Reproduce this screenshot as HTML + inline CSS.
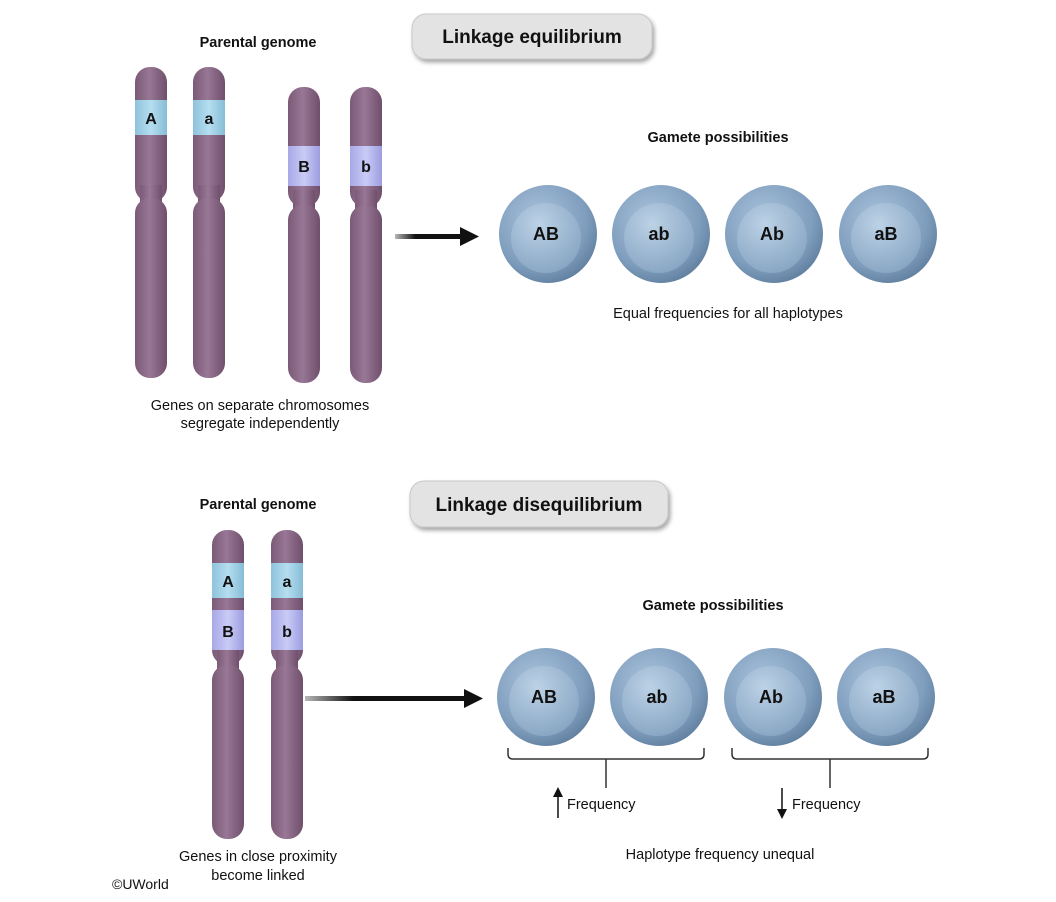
<!DOCTYPE html>
<html><head><meta charset="utf-8"><style>
html,body{margin:0;padding:0;background:#fff}
svg{display:block}
text{font-family:"Liberation Sans",Arial,sans-serif;fill:#111}
</style></head><body>
<svg width="1056" height="902" viewBox="0 0 1056 902" xmlns="http://www.w3.org/2000/svg">
<defs>
<linearGradient id="chr" x1="0" x2="1" y1="0" y2="0">
<stop offset="0" stop-color="#7a5a76"/><stop offset="0.45" stop-color="#987796"/><stop offset="1" stop-color="#6f4f6b"/>
</linearGradient>
<linearGradient id="bandA" x1="0" x2="1"><stop offset="0" stop-color="#8ec3dc"/><stop offset="0.5" stop-color="#b5def0"/><stop offset="1" stop-color="#86bcd6"/></linearGradient>
<linearGradient id="bandB" x1="0" x2="1"><stop offset="0" stop-color="#a7a8e6"/><stop offset="0.5" stop-color="#c9cbf6"/><stop offset="1" stop-color="#9c9de0"/></linearGradient>
<radialGradient id="outer" cx="0.4" cy="0.35" r="0.7"><stop offset="0" stop-color="#a9c3dc"/><stop offset="0.7" stop-color="#7f9dbd"/><stop offset="1" stop-color="#5f7d9d"/></radialGradient>
<radialGradient id="inner" cx="0.4" cy="0.3" r="0.75"><stop offset="0" stop-color="#bcd2e6"/><stop offset="1" stop-color="#86a4c2"/></radialGradient>
<linearGradient id="arr" x1="0" x2="1"><stop offset="0" stop-color="#111" stop-opacity="0.3"/><stop offset="0.3" stop-color="#111"/><stop offset="1" stop-color="#111"/></linearGradient>
<filter id="sh" x="-10%" y="-20%" width="130%" height="160%"><feDropShadow dx="2" dy="3" stdDeviation="2" flood-color="#000" flood-opacity="0.35"/></filter>
</defs>

<rect x="412" y="14" width="240" height="45" rx="14" fill="#e3e3e3" stroke="#c8c8c8" filter="url(#sh)"/>
<text x="532" y="43" font-size="19" font-weight="bold" text-anchor="middle">Linkage equilibrium</text>
<rect x="410" y="481" width="258" height="46" rx="14" fill="#e3e3e3" stroke="#c8c8c8" filter="url(#sh)"/>
<text x="539" y="511" font-size="19" font-weight="bold" text-anchor="middle">Linkage disequilibrium</text>

<text x="258" y="47" font-size="14.5" font-weight="bold" text-anchor="middle">Parental genome</text>
<text x="718" y="142" font-size="14.5" font-weight="bold" text-anchor="middle">Gamete possibilities</text>
<text x="728" y="318" font-size="14.5" text-anchor="middle">Equal frequencies for all haplotypes</text>
<text x="260" y="410" font-size="14.5" text-anchor="middle">Genes on separate chromosomes</text>
<text x="260" y="428" font-size="14.5" text-anchor="middle">segregate independently</text>

<g>
<rect x="135" y="67" width="32" height="135" rx="15" fill="url(#chr)"/>
<rect x="140" y="185" width="22" height="30" fill="url(#chr)"/>
<rect x="135" y="198" width="32" height="180" rx="15" fill="url(#chr)"/>
<rect x="135" y="100" width="32" height="35" fill="url(#bandA)"/>
<text x="151" y="124" font-size="16" font-weight="bold" text-anchor="middle">A</text>

<rect x="193" y="67" width="32" height="135" rx="15" fill="url(#chr)"/>
<rect x="198" y="185" width="22" height="30" fill="url(#chr)"/>
<rect x="193" y="198" width="32" height="180" rx="15" fill="url(#chr)"/>
<rect x="193" y="100" width="32" height="35" fill="url(#bandA)"/>
<text x="209" y="124" font-size="16" font-weight="bold" text-anchor="middle">a</text>

<rect x="288" y="87" width="32" height="120" rx="15" fill="url(#chr)"/>
<rect x="293" y="190" width="22" height="30" fill="url(#chr)"/>
<rect x="288" y="205" width="32" height="178" rx="15" fill="url(#chr)"/>
<rect x="288" y="146" width="32" height="40" fill="url(#bandB)"/>
<text x="304" y="172" font-size="16" font-weight="bold" text-anchor="middle">B</text>

<rect x="350" y="87" width="32" height="120" rx="15" fill="url(#chr)"/>
<rect x="355" y="190" width="22" height="30" fill="url(#chr)"/>
<rect x="350" y="205" width="32" height="178" rx="15" fill="url(#chr)"/>
<rect x="350" y="146" width="32" height="40" fill="url(#bandB)"/>
<text x="366" y="172" font-size="16" font-weight="bold" text-anchor="middle">b</text>
</g>

<rect x="395" y="234" width="68" height="5" fill="url(#arr)"/>
<path d="M460,227 L479,236.5 L460,246z" fill="#111"/>

<g font-size="18" font-weight="bold">
<circle cx="548" cy="234" r="49" fill="url(#outer)"/><circle cx="546" cy="238" r="35" fill="url(#inner)"/><text x="546" y="240" text-anchor="middle">AB</text>
<circle cx="661" cy="234" r="49" fill="url(#outer)"/><circle cx="659" cy="238" r="35" fill="url(#inner)"/><text x="659" y="240" text-anchor="middle">ab</text>
<circle cx="774" cy="234" r="49" fill="url(#outer)"/><circle cx="772" cy="238" r="35" fill="url(#inner)"/><text x="772" y="240" text-anchor="middle">Ab</text>
<circle cx="888" cy="234" r="49" fill="url(#outer)"/><circle cx="886" cy="238" r="35" fill="url(#inner)"/><text x="886" y="240" text-anchor="middle">aB</text>
</g>

<text x="258" y="509" font-size="14.5" font-weight="bold" text-anchor="middle">Parental genome</text>
<text x="713" y="610" font-size="14.5" font-weight="bold" text-anchor="middle">Gamete possibilities</text>
<text x="258" y="861" font-size="14.5" text-anchor="middle">Genes in close proximity</text>
<text x="258" y="880" font-size="14.5" text-anchor="middle">become linked</text>
<text x="112" y="889" font-size="14">©UWorld</text>
<text x="720" y="859" font-size="14.5" text-anchor="middle">Haplotype frequency unequal</text>

<rect x="212" y="530" width="32" height="135" rx="15" fill="url(#chr)"/>
<rect x="217" y="650" width="22" height="30" fill="url(#chr)"/>
<rect x="212" y="665" width="32" height="174" rx="15" fill="url(#chr)"/>
<rect x="212" y="563" width="32" height="35" fill="url(#bandA)"/>
<rect x="212" y="610" width="32" height="40" fill="url(#bandB)"/>
<text x="228" y="587" font-size="16" font-weight="bold" text-anchor="middle">A</text>
<text x="228" y="637" font-size="16" font-weight="bold" text-anchor="middle">B</text>

<rect x="271" y="530" width="32" height="135" rx="15" fill="url(#chr)"/>
<rect x="276" y="650" width="22" height="30" fill="url(#chr)"/>
<rect x="271" y="665" width="32" height="174" rx="15" fill="url(#chr)"/>
<rect x="271" y="563" width="32" height="35" fill="url(#bandA)"/>
<rect x="271" y="610" width="32" height="40" fill="url(#bandB)"/>
<text x="287" y="587" font-size="16" font-weight="bold" text-anchor="middle">a</text>
<text x="287" y="637" font-size="16" font-weight="bold" text-anchor="middle">b</text>

<rect x="305" y="696" width="162" height="5" fill="url(#arr)"/>
<path d="M464,689 L483,698.5 L464,708z" fill="#111"/>

<g font-size="18" font-weight="bold">
<circle cx="546" cy="697" r="49" fill="url(#outer)"/><circle cx="544" cy="701" r="35" fill="url(#inner)"/><text x="544" y="703" text-anchor="middle">AB</text>
<circle cx="659" cy="697" r="49" fill="url(#outer)"/><circle cx="657" cy="701" r="35" fill="url(#inner)"/><text x="657" y="703" text-anchor="middle">ab</text>
<circle cx="773" cy="697" r="49" fill="url(#outer)"/><circle cx="771" cy="701" r="35" fill="url(#inner)"/><text x="771" y="703" text-anchor="middle">Ab</text>
<circle cx="886" cy="697" r="49" fill="url(#outer)"/><circle cx="884" cy="701" r="35" fill="url(#inner)"/><text x="884" y="703" text-anchor="middle">aB</text>
</g>

<g fill="none" stroke="#333" stroke-width="1.5">
<path d="M508,748 v6 q0,5 5,5 h186 q5,0 5,-5 v-6"/>
<line x1="606" y1="759" x2="606" y2="788"/>
<path d="M732,748 v6 q0,5 5,5 h186 q5,0 5,-5 v-6"/>
<line x1="830" y1="759" x2="830" y2="788"/>
</g>
<line x1="558" y1="818" x2="558" y2="794" stroke="#111" stroke-width="1.5"/>
<path d="M553,797 L558,787 L563,797z" fill="#111"/>
<text x="567" y="809" font-size="14.5">Frequency</text>
<line x1="782" y1="788" x2="782" y2="812" stroke="#111" stroke-width="1.5"/>
<path d="M777,809 L782,819 L787,809z" fill="#111"/>
<text x="792" y="809" font-size="14.5">Frequency</text>
</svg>
</body></html>
